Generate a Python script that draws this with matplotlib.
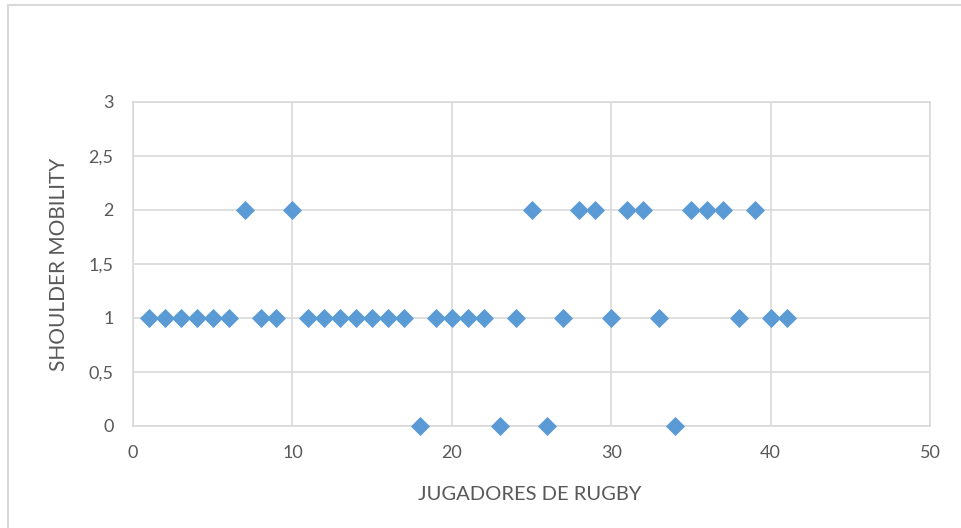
import matplotlib.pyplot as plt
from matplotlib.patches import Rectangle

# datos
jugadores = list(range(1, 42))
mobility = [1, 1, 1, 1, 1, 1, 2, 1, 1, 2,
            1, 1, 1, 1, 1, 1, 1, 0, 1, 1,
            1, 1, 0, 1, 2, 0, 1, 2, 2, 1,
            2, 2, 1, 0, 2, 2, 2, 1, 2, 1,
            1]
xticks = [0, 10, 20, 30, 40, 50]
yticks = [0, 0.5, 1, 1.5, 2, 2.5, 3]
ylabels = ['0', '0,5', '1', '1,5', '2', '2,5', '3']

plt.rcParams['font.family'] = ['Lato', 'DejaVu Sans']
grey = '#D9D9D9'
txt = '#595959'

fig = plt.figure(figsize=(9.61, 5.28), dpi=100)
# borde exterior del area del grafico
fig.patches.append(Rectangle((8 / 961, -0.05), 1.1, 1 - 5 / 528 + 0.05,
                             transform=fig.transFigure, fill=False,
                             edgecolor=grey, linewidth=1.5))

ax = fig.add_axes([133 / 961, 1 - 426 / 528, 797 / 961, 324 / 528])
ax.scatter(jugadores, mobility, marker='D', s=95, color='#5B9BD5', zorder=3,
           linewidths=0, clip_on=False)

ax.set_xlim(0, 50)
ax.set_ylim(0, 3)
ax.set_xticks(xticks)
ax.set_yticks(yticks)
ax.set_yticklabels(ylabels)
ax.grid(True, color=grey, linewidth=1.2)
for s in ax.spines.values():
    s.set_color(grey)
    s.set_linewidth(1.2)
ax.tick_params(length=0, labelsize=13, labelcolor=txt)
ax.tick_params(axis='x', pad=14)
ax.tick_params(axis='y', pad=14)

ax.set_xlabel('JUGADORES DE RUGBY', fontsize=14.5, color=txt, va='center')
ax.xaxis.set_label_coords(0.4975, (426 - 495) / 324)
ax.set_ylabel('SHOULDER MOBILITY', fontsize=15, color=txt, va='center')
ax.yaxis.set_label_coords((59 - 133) / 797, 0.5)

fig.savefig('out.png', dpi=100)
